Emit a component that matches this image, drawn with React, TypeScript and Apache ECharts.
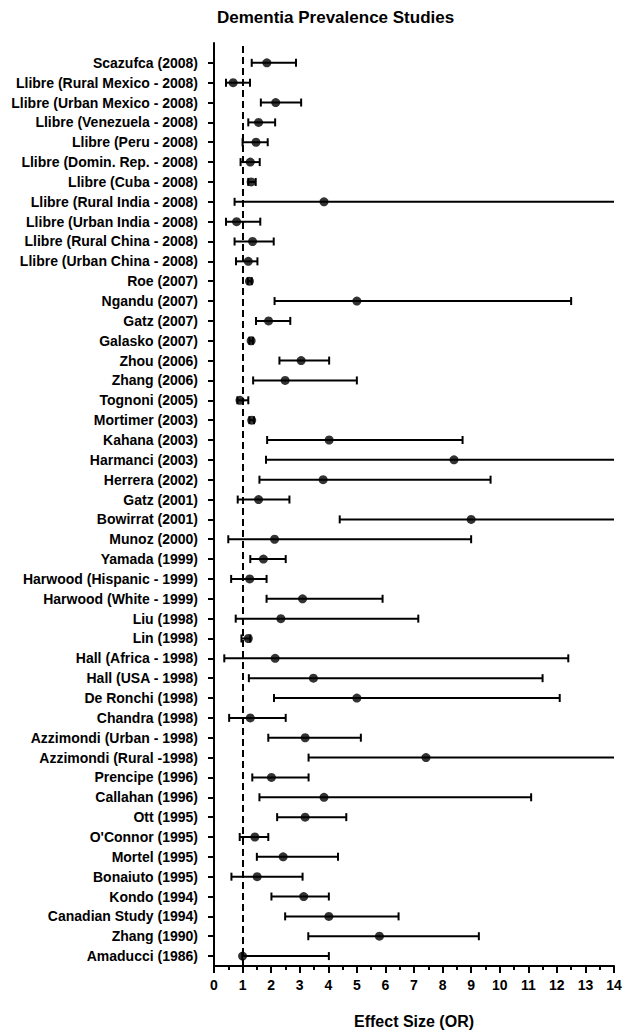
import React, { useEffect, useRef } from "react";
import * as echarts from "echarts";

const studies = [
  "Scazufca (2008)",
  "Llibre (Rural Mexico - 2008)",
  "Llibre (Urban Mexico - 2008)",
  "Llibre (Venezuela - 2008)",
  "Llibre (Peru - 2008)",
  "Llibre (Domin. Rep. - 2008)",
  "Llibre (Cuba - 2008)",
  "Llibre (Rural India - 2008)",
  "Llibre (Urban India - 2008)",
  "Llibre (Rural China - 2008)",
  "Llibre (Urban China - 2008)",
  "Roe (2007)",
  "Ngandu (2007)",
  "Gatz (2007)",
  "Galasko (2007)",
  "Zhou (2006)",
  "Zhang (2006)",
  "Tognoni (2005)",
  "Mortimer (2003)",
  "Kahana (2003)",
  "Harmanci (2003)",
  "Herrera (2002)",
  "Gatz (2001)",
  "Bowirrat (2001)",
  "Munoz (2000)",
  "Yamada (1999)",
  "Harwood (Hispanic - 1999)",
  "Harwood (White - 1999)",
  "Liu (1998)",
  "Lin (1998)",
  "Hall (Africa - 1998)",
  "Hall (USA - 1998)",
  "De Ronchi (1998)",
  "Chandra (1998)",
  "Azzimondi (Urban - 1998)",
  "Azzimondi (Rural -1998)",
  "Prencipe (1996)",
  "Callahan (1996)",
  "Ott (1995)",
  "O'Connor (1995)",
  "Mortel (1995)",
  "Bonaiuto (1995)",
  "Kondo (1994)",
  "Canadian Study (1994)",
  "Zhang (1990)",
  "Amaducci (1986)",
];

const oddsRatio = [
  1.85, 0.67, 2.16, 1.56, 1.47, 1.27, 1.3, 3.85, 0.79, 1.35, 1.2, 1.24, 5.0,
  1.91, 1.3, 3.05, 2.49, 0.91, 1.32, 4.03, 8.4, 3.82, 1.56, 9.0, 2.12, 1.73,
  1.25, 3.1, 2.34, 1.2, 2.14, 3.48, 5.0, 1.27, 3.19, 7.42, 2.01, 3.85, 3.19,
  1.43, 2.42, 1.51, 3.14, 4.02, 5.79, 1.0,
];

const ciLower = [
  1.32, 0.42, 1.64, 1.2, 1.0, 0.93, 1.2, 0.72, 0.42, 0.72, 0.77, 1.18, 2.12,
  1.47, 1.24, 2.29, 1.37, 0.82, 1.24, 1.86, 1.82, 1.59, 0.83, 4.4, 0.5, 1.27,
  0.6, 1.84, 0.76, 0.96, 0.36, 1.22, 2.1, 0.53, 1.9, 3.31, 1.34, 1.59, 2.21,
  0.9, 1.5, 0.61, 2.01, 2.49, 3.3, 0.99,
];

const ciUpper = [
  2.87, 1.26, 3.05, 2.14, 1.88, 1.6, 1.46, 16.0, 1.62, 2.09, 1.52, 1.32, 12.5,
  2.67, 1.36, 4.03, 5.0, 1.2, 1.4, 8.7, 15.5, 9.68, 2.64, 17.0, 9.0, 2.51,
  1.84, 5.9, 7.15, 1.27, 12.4, 11.5, 12.1, 2.51, 5.14, 15.0, 3.31, 11.1, 4.63,
  1.9, 4.34, 3.1, 4.02, 6.46, 9.27, 4.02,
];

const xTicks = [0, 1, 2, 3, 4, 5, 6, 7, 8, 9, 10, 11, 12, 13, 14];

const X_MAX = 14;
const FONT = "'Liberation Sans', Arial, Helvetica, sans-serif";

export default function App() {
  const ref = useRef<HTMLDivElement>(null);

  useEffect(() => {
    document.body.style.margin = "0";
    if (!ref.current) return;
    const chart = echarts.init(ref.current, null, { renderer: "svg" });
    const n = studies.length;
    const rowPos = studies.map((_, i) => n - i - 0.5);
    const ciData = studies.map((_, i) => [ciLower[i], ciUpper[i], oddsRatio[i], rowPos[i]]);
    const ptData = studies.map((_, i) => [oddsRatio[i], rowPos[i]]);
    const labelMap: Record<string, string> = {};
    rowPos.forEach((p, i) => {
      labelMap[p.toFixed(1)] = studies[i];
    });

    chart.setOption({
      animation: false,
      backgroundColor: "#ffffff",
      title: {
        text: "Dementia Prevalence Studies",
        left: 212,
        top: 4,
        textStyle: { fontFamily: FONT, fontSize: 17, fontWeight: "bold", color: "#000" },
      },
      grid: { left: 214, right: 15, top: 43, bottom: 69, containLabel: false },
      xAxis: {
        type: "value",
        min: 0,
        max: X_MAX,
        interval: 1,
        name: "Effect Size (OR)",
        nameLocation: "middle",
        nameGap: 47,
        nameTextStyle: { fontFamily: FONT, fontSize: 16, fontWeight: "bold", color: "#000" },
        axisLine: { show: true, lineStyle: { color: "#000", width: 2 } },
        axisTick: { show: true, length: 7, lineStyle: { color: "#000", width: 2 } },
        minorTick: { show: true, splitNumber: 2, length: 4, lineStyle: { color: "#000", width: 2 } },
        splitLine: { show: false },
        axisLabel: {
          margin: 12,
          fontFamily: FONT,
          fontSize: 14,
          fontWeight: "bold",
          color: "#000",
          customValues: xTicks,
        },
      },
      yAxis: {
        type: "value",
        min: 0,
        max: n + 0.5,
        axisLine: { show: true, lineStyle: { color: "#000", width: 2 } },
        axisTick: {
          show: true,
          length: 6,
          lineStyle: { color: "#000", width: 2 },
          customValues: rowPos,
        },
        splitLine: { show: false },
        axisLabel: {
          customValues: rowPos,
          margin: 16,
          fontFamily: FONT,
          fontSize: 14,
          fontWeight: "bold",
          color: "#000",
          formatter: (v: number) => labelMap[Number(v).toFixed(1)] || "",
        },
      },
      series: [
        {
          type: "custom",
          data: ciData,
          encode: { x: [0, 1, 2], y: 3 },
          clip: true,
          z: 2,
          renderItem: (params: any, api: any) => {
            const y = api.value(3);
            const loV = api.value(0);
            const hiRaw = api.value(1);
            const hiV = Math.min(hiRaw, X_MAX);
            const lo = api.coord([loV, y]);
            const hi = api.coord([hiV, y]);
            const capH = 4;
            const style = { stroke: "#000", lineWidth: 2 };
            const children: any[] = [
              { type: "line", shape: { x1: lo[0], y1: lo[1], x2: hi[0], y2: hi[1] }, style },
              { type: "line", shape: { x1: lo[0], y1: lo[1] - capH, x2: lo[0], y2: lo[1] + capH }, style },
            ];
            if (hiRaw <= X_MAX) {
              children.push({
                type: "line",
                shape: { x1: hi[0], y1: hi[1] - capH, x2: hi[0], y2: hi[1] + capH },
                style,
              });
            }
            return { type: "group", children };
          },
        },
        {
          type: "scatter",
          data: ptData,
          symbol: "circle",
          symbolSize: 9,
          itemStyle: { color: "#000" },
          z: 3,
          markLine: {
            silent: true,
            symbol: "none",
            label: { show: false },
            lineStyle: { color: "#000", width: 2, type: [7, 4] },
            data: [{ xAxis: 1 }],
          },
        },
      ],
    });

    return () => chart.dispose();
  }, []);

  return <div ref={ref} style={{ width: 629, height: 1035 }} />;
}
